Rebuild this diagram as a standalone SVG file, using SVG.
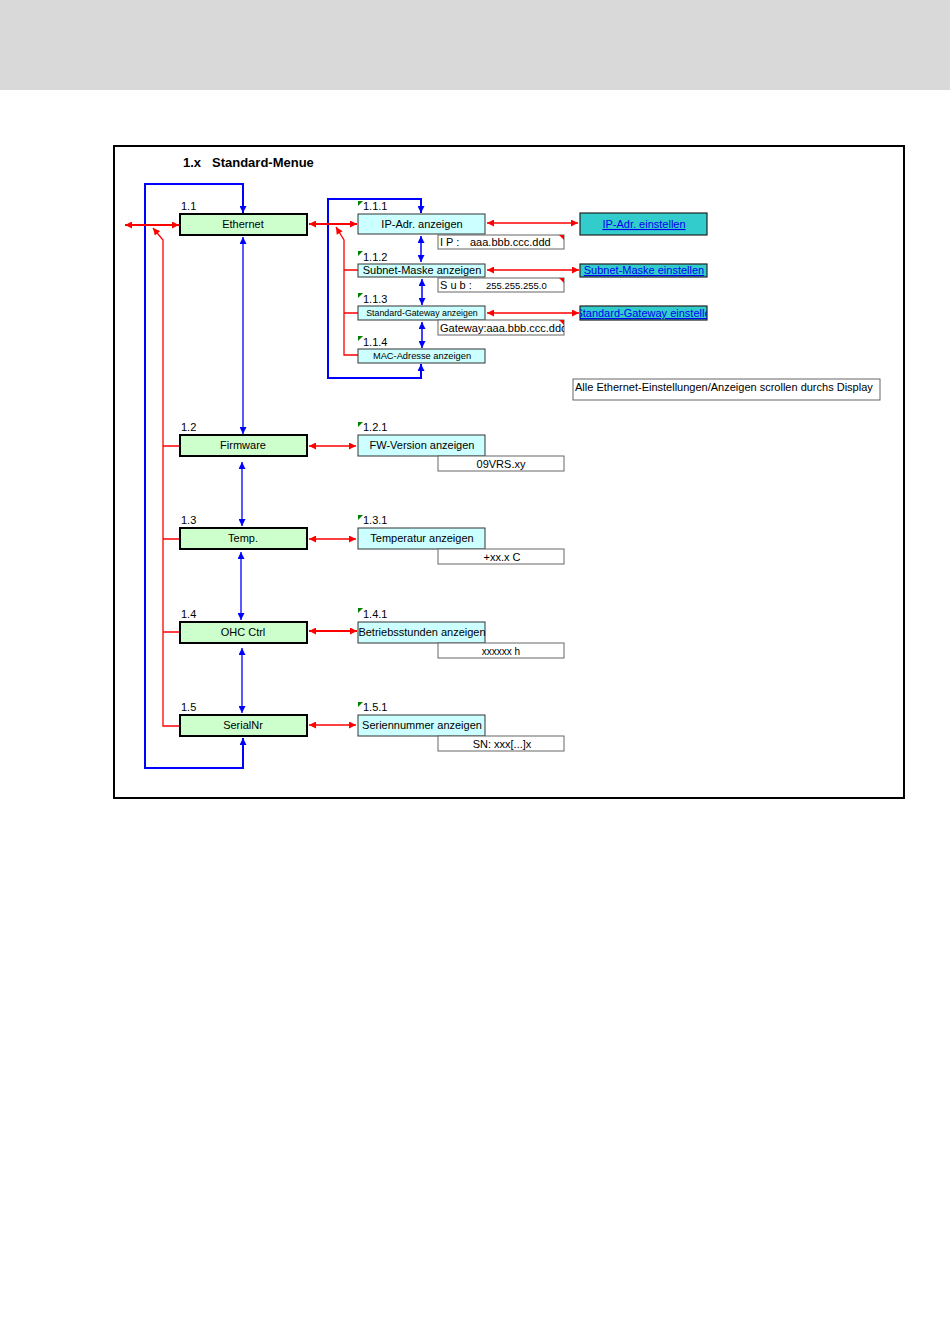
<svg xmlns="http://www.w3.org/2000/svg" width="950" height="1344" viewBox="0 0 950 1344">
<style>
text{font-family:"Liberation Sans",Arial,sans-serif;fill:#000}
.main rect{fill:#ccffcc;stroke:#000;stroke-width:2}
.sub rect{fill:#ccffff;stroke:#333;stroke-width:1}
.val rect{fill:#fff;stroke:#666;stroke-width:1}
.set rect{fill:#33cccc;stroke:#222;stroke-width:1.2}
.set text{fill:#0000ee;text-decoration:underline;font-size:11px}
.lbl{font-size:11px}
.num{font-size:11px}
.b{fill:none;stroke:#0000ff}
.r{fill:none;stroke:#ff0000}
</style>
<defs>
<marker id="ab" viewBox="0 0 10 10" refX="10" refY="5" markerWidth="7" markerHeight="7" markerUnits="userSpaceOnUse" orient="auto-start-reverse"><path d="M0,0 L10,5 L0,10 z" fill="#0000ff"/></marker>
<marker id="ar" viewBox="0 0 10 10" refX="10" refY="5" markerWidth="8" markerHeight="7" markerUnits="userSpaceOnUse" orient="auto-start-reverse"><path d="M0,0 L10,5 L0,10 z" fill="#ff0000"/></marker>
<clipPath id="c1"><rect x="580" y="306" width="127" height="14"/></clipPath>
<clipPath id="c2"><rect x="438" y="320" width="126" height="15"/></clipPath>
</defs>
<rect x="0" y="0" width="950" height="90" fill="#d9d9d9"/>
<rect x="114" y="146" width="790" height="652" fill="#fff" stroke="#000" stroke-width="2"/>
<text x="183" y="167" font-size="13" font-weight="bold">1.x</text>
<text x="212" y="167" font-size="13" font-weight="bold">Standard-Menue</text>

<g id="connectors">
<path class="b" stroke-width="2" d="M243,738 V768 H145 V184 H243 V213" marker-start="url(#ab)" marker-end="url(#ab)"/>
<path class="b" stroke-width="1.3" d="M243,237 V434" marker-start="url(#ab)" marker-end="url(#ab)"/>
<path class="b" stroke-width="1.3" d="M242,462 V526" marker-start="url(#ab)" marker-end="url(#ab)"/>
<path class="b" stroke-width="1.3" d="M241,552 V620" marker-start="url(#ab)" marker-end="url(#ab)"/>
<path class="b" stroke-width="1.3" d="M242,648 V713" marker-start="url(#ab)" marker-end="url(#ab)"/>
<path class="b" stroke-width="2" d="M421,364 V378 H328 V199 H421 V213" marker-start="url(#ab)" marker-end="url(#ab)"/>
<path class="b" stroke-width="1.5" d="M421,236 V262" marker-start="url(#ab)" marker-end="url(#ab)"/>
<path class="b" stroke-width="1.5" d="M422,279 V305" marker-start="url(#ab)" marker-end="url(#ab)"/>
<path class="b" stroke-width="1.5" d="M422,322 V348" marker-start="url(#ab)" marker-end="url(#ab)"/>

<path class="r" stroke-width="2" d="M125,225 H179" marker-start="url(#ar)" marker-end="url(#ar)"/>
<path class="r" stroke-width="1.3" d="M179,726 H163 V240 L153,228" marker-end="url(#ar)"/>
<path class="r" stroke-width="1.3" d="M163,446 H179 M163,539 H179 M163,632 H179"/>
<path class="r" stroke-width="2" d="M309,224 H357" marker-start="url(#ar)" marker-end="url(#ar)"/>
<path class="r" stroke-width="1.3" d="M358,355 H344 V240 L336,227" marker-end="url(#ar)"/>
<path class="r" stroke-width="1.3" d="M344,270 H358 M344,313 H358"/>
<path class="r" stroke-width="1.5" d="M487,223 H578" marker-start="url(#ar)" marker-end="url(#ar)"/>
<path class="r" stroke-width="1.5" d="M487,270 H579" marker-start="url(#ar)" marker-end="url(#ar)"/>
<path class="r" stroke-width="1.5" d="M487,313 H579" marker-start="url(#ar)" marker-end="url(#ar)"/>
<path class="r" stroke-width="1.5" d="M309,446 H356" marker-start="url(#ar)" marker-end="url(#ar)"/>
<path class="r" stroke-width="1.5" d="M309,539 H356" marker-start="url(#ar)" marker-end="url(#ar)"/>
<path class="r" stroke-width="2" d="M309,631 H357" marker-start="url(#ar)" marker-end="url(#ar)"/>
<path class="r" stroke-width="1.5" d="M309,725 H356" marker-start="url(#ar)" marker-end="url(#ar)"/>
</g>

<g id="n1_1" class="main"><text class="num" x="181" y="210">1.1</text><rect x="180" y="214" width="127" height="21"/><text class="lbl" x="243" y="228" text-anchor="middle">Ethernet</text></g>
<g id="n1_2" class="main"><text class="num" x="181" y="431">1.2</text><rect x="180" y="435" width="127" height="21"/><text class="lbl" x="243" y="449" text-anchor="middle">Firmware</text></g>
<g id="n1_3" class="main"><text class="num" x="181" y="524">1.3</text><rect x="180" y="528" width="127" height="21"/><text class="lbl" x="243" y="542" text-anchor="middle">Temp.</text></g>
<g id="n1_4" class="main"><text class="num" x="181" y="618">1.4</text><rect x="180" y="622" width="127" height="21"/><text class="lbl" x="243" y="636" text-anchor="middle">OHC Ctrl</text></g>
<g id="n1_5" class="main"><text class="num" x="181" y="711">1.5</text><rect x="180" y="715" width="127" height="21"/><text class="lbl" x="243" y="729" text-anchor="middle">SerialNr</text></g>

<g id="n1_1_1" class="sub"><path d="M358,201 h5 l-5,5 z" fill="#008000"/><text class="num" x="363" y="210">1.1.1</text><rect x="358" y="214" width="127" height="20"/><text class="lbl" x="422" y="228" text-anchor="middle">IP-Adr. anzeigen</text></g>
<g id="v1_1_1" class="val"><rect x="438" y="235" width="126" height="14"/><path d="M559,235 h5 v5 z" fill="#ff0000"/><text x="440" y="246" font-size="11">I P :</text><text x="470" y="246" font-size="11">aaa.bbb.ccc.ddd</text></g>
<g id="n1_1_2" class="sub"><path d="M358,251 h5 l-5,5 z" fill="#008000"/><text class="num" x="363" y="261">1.1.2</text><rect x="358" y="264" width="127" height="13"/><text class="lbl" x="422" y="274" text-anchor="middle">Subnet-Maske anzeigen</text></g>
<g id="v1_1_2" class="val"><rect x="438" y="278" width="126" height="14"/><path d="M559,278 h5 v5 z" fill="#ff0000"/><text x="440" y="289" font-size="11">S u b :</text><text x="486" y="289" font-size="9.5">255.255.255.0</text></g>
<g id="n1_1_3" class="sub"><path d="M358,293 h5 l-5,5 z" fill="#008000"/><text class="num" x="363" y="303">1.1.3</text><rect x="358" y="306" width="127" height="14"/><text x="422" y="316" font-size="8.8" text-anchor="middle">Standard-Gateway anzeigen</text></g>
<g id="v1_1_3" class="val"><rect x="438" y="320" width="126" height="15"/><path d="M559,320 h5 v5 z" fill="#ff0000"/><text x="440" y="332" font-size="11" clip-path="url(#c2)">Gateway:aaa.bbb.ccc.ddd</text></g>
<g id="n1_1_4" class="sub"><path d="M358,336 h5 l-5,5 z" fill="#008000"/><text class="num" x="363" y="346">1.1.4</text><rect x="358" y="349" width="127" height="14"/><text x="422" y="359" font-size="9.3" text-anchor="middle">MAC-Adresse anzeigen</text></g>

<g id="s1" class="set"><rect x="580" y="213" width="127" height="22"/><text x="644" y="228" text-anchor="middle">IP-Adr. einstellen</text></g>
<g id="s2" class="set"><rect x="580" y="264" width="127" height="13"/><text x="644" y="274" text-anchor="middle">Subnet-Maske einstellen</text></g>
<g id="s3" class="set"><rect x="580" y="306" width="127" height="14"/><text x="646" y="317" text-anchor="middle" clip-path="url(#c1)">Standard-Gateway einstellen</text></g>

<g id="note"><rect x="573" y="379" width="307" height="21" fill="#fff" stroke="#666" stroke-width="1"/><text x="575" y="391" font-size="11">Alle Ethernet-Einstellungen/Anzeigen scrollen durchs Display</text></g>

<g id="n1_2_1" class="sub"><path d="M358,422 h5 l-5,5 z" fill="#008000"/><text class="num" x="363" y="431">1.2.1</text><rect x="358" y="435" width="127" height="21"/><text class="lbl" x="422" y="449" text-anchor="middle">FW-Version anzeigen</text></g>
<g id="v1_2_1" class="val"><rect x="438" y="456" width="126" height="15"/><text x="501" y="468" font-size="11" text-anchor="middle">09VRS.xy</text></g>
<g id="n1_3_1" class="sub"><path d="M358,515 h5 l-5,5 z" fill="#008000"/><text class="num" x="363" y="524">1.3.1</text><rect x="358" y="528" width="127" height="21"/><text class="lbl" x="422" y="542" text-anchor="middle">Temperatur anzeigen</text></g>
<g id="v1_3_1" class="val"><rect x="438" y="549" width="126" height="15"/><text x="502" y="561" font-size="11" text-anchor="middle">+xx.x C</text></g>
<g id="n1_4_1" class="sub"><path d="M358,608 h5 l-5,5 z" fill="#008000"/><text class="num" x="363" y="618">1.4.1</text><rect x="358" y="622" width="127" height="21"/><text class="lbl" x="422" y="636" text-anchor="middle">Betriebsstunden anzeigen</text></g>
<g id="v1_4_1" class="val"><rect x="438" y="643" width="126" height="15"/><text x="501" y="655" font-size="10" text-anchor="middle">xxxxxx h</text></g>
<g id="n1_5_1" class="sub"><path d="M358,702 h5 l-5,5 z" fill="#008000"/><text class="num" x="363" y="711">1.5.1</text><rect x="358" y="715" width="127" height="21"/><text class="lbl" x="422" y="729" text-anchor="middle">Seriennummer anzeigen</text></g>
<g id="v1_5_1" class="val"><rect x="438" y="736" width="126" height="15"/><text x="502" y="748" font-size="11" text-anchor="middle">SN: xxx[...]x</text></g>
</svg>
